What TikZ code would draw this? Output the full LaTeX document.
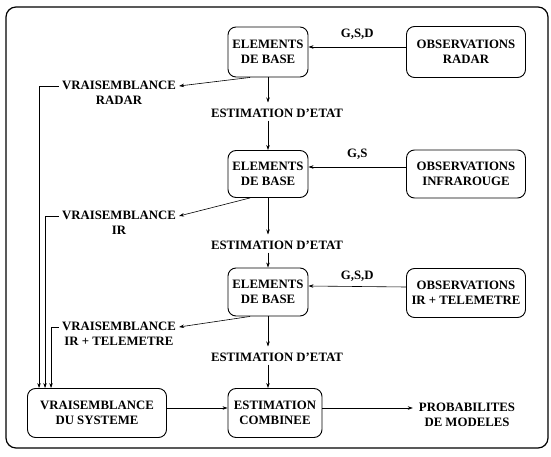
\documentclass[tikz,border=0pt]{standalone}
\usepackage{fontspec}
\setmainfont{Liberation Serif}
\usetikzlibrary{arrows.meta,calc}
\begin{document}
\begin{tikzpicture}[x=1pt,y=-1pt,
  every node/.style={font=\fontsize{12.8}{15.5}\selectfont\bfseries, align=center, inner sep=0pt},
  box/.style={draw, line width=0.9pt, rounded corners=8pt},
  arr/.style={line width=0.6pt, -{Stealth[length=5pt,width=3.5pt]}}
]
\useasboundingbox (0,0) rectangle (551,457);
\draw[line width=1.2pt, rounded corners=10pt] (6,7) rectangle (548,448);

\node[box, minimum width=80, minimum height=50] (eb1) at (268,52) {ELEMENTS\\DE BASE};
\node[box, minimum width=119, minimum height=51] (obs1) at (466,52) {OBSERVATIONS\\RADAR};
\node[box, minimum width=80, minimum height=47] (eb2) at (268,174) {ELEMENTS\\DE BASE};
\node[box, minimum width=119, minimum height=48] (obs2) at (466,174) {OBSERVATIONS\\INFRAROUGE};
\node[box, minimum width=80, minimum height=48] (eb3) at (268,292) {ELEMENTS\\DE BASE};
\node[box, minimum width=119, minimum height=49] (obs3) at (466,293) {OBSERVATIONS\\IR + TELEMETRE};
\node[box, minimum width=139, minimum height=49] (vs) at (97,413) {VRAISEMBLANCE\\DU SYSTEME};
\node[box, minimum width=94, minimum height=49] (ec) at (275,413) {ESTIMATION\\COMBINEE};
\node (prob) at (467,415) {PROBABILITES\\DE MODELES};

\node (est1) at (277,113) {ESTIMATION D'ETAT};
\node (est2) at (277,245) {ESTIMATION D'ETAT};
\node (est3) at (277,357) {ESTIMATION D'ETAT};

\node (v1) at (119,93) {VRAISEMBLANCE\\RADAR};
\node (v2) at (119,223) {VRAISEMBLANCE\\IR};
\node (v3) at (119,334) {VRAISEMBLANCE\\IR + TELEMETRE};

% observations to elements
\draw[arr] ([yshift=5pt]obs1.west) -- node[above=7pt] {G,S,D} ([yshift=5pt]eb1.east);
\draw[arr] ([yshift=7pt]obs2.west) -- node[above=7pt] {G,S} ([yshift=7pt]eb2.east);
\draw[arr] ([yshift=6pt]obs3.west) -- node[above=5pt] {G,S,D} ([yshift=6pt]eb3.east);

% vertical chain
\draw[arr] (eb1.south) -- ([yshift=6pt]eb1.south |- est1.north);
\draw[arr] ([yshift=-3pt]eb1.south |- est1.south) -- (eb2.north);
\draw[arr] (eb2.south) -- ([yshift=6pt]eb2.south |- est2.north);
\draw[arr] ([yshift=-3pt]eb2.south |- est2.south) -- (eb3.north);
\draw[arr] (eb3.south) -- ([yshift=6pt]eb3.south |- est3.north);
\draw[arr] ([yshift=-3pt]eb3.south |- est3.south) -- (eb3.south |- ec.north);

% likelihood outputs
\draw[arr] ([xshift=-18pt]eb1.south) -- ([xshift=3pt,yshift=7pt]v1.east);
\draw[arr] ([xshift=-18pt]eb2.south) -- ([xshift=3pt,yshift=7pt]v2.east);
\draw[arr] ([xshift=-18pt]eb3.south) -- ([xshift=3pt,yshift=7pt]v3.east);

\draw[arr] ([xshift=-3pt,yshift=7pt]v1.west) -| ([xshift=12pt]vs.north west);
\draw[arr] ([xshift=-3pt,yshift=7pt]v2.west) -| ([xshift=18pt]vs.north west);
\draw[arr] ([xshift=-3pt,yshift=7pt]v3.west) -| ([xshift=24pt]vs.north west);

% bottom row
\draw[arr] ([yshift=5pt]vs.east) -- ([yshift=5pt]ec.west);
\draw[arr] ([yshift=5pt]ec.east) -- ([xshift=-6pt,yshift=7pt]prob.west);
\end{tikzpicture}
\end{document}
